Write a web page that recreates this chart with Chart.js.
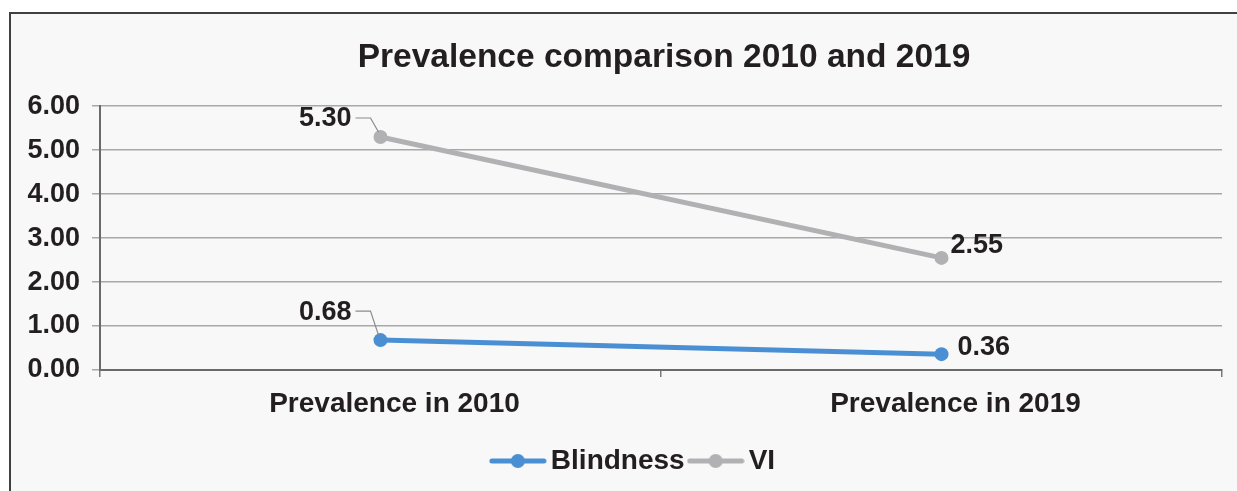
<!DOCTYPE html>
<html>
<head>
<meta charset="utf-8">
<script src="https://cdn.jsdelivr.net/npm/chart.js@4.4.1/dist/chart.umd.min.js"></script>
<style>
  html, body { margin: 0; padding: 0; background: #ffffff; overflow: hidden; }
  #frame {
    position: absolute; left: 9px; top: 12px; width: 1240px; height: 490px;
    border: 2px solid #404040; background: #f8f8f8;
  }
  #wrap { position: absolute; left: 0; top: 0; width: 1237px; height: 491px; }
</style>
</head>
<body>
<div id="frame"></div>
<div id="wrap"><canvas id="chart" width="1237" height="491"></canvas></div>
<script>
  const categories = ['Prevalence in 2010', 'Prevalence in 2019'];
  const blindness = [0.68, 0.36];
  const vi = [5.30, 2.55];
  const yMin = 0, yMax = 6, yStep = 1;

  const textColor = '#231f20';
  const blue = '#4a8fd3';
  const gray = '#b1b1b4';
  const font = 'Liberation Sans, Arial, sans-serif';

  // label offsets from each point: [dx, dy, leader?]
  const labelStyle = [
    [[-10, -29, true], [16, -7, false]],   // Blindness
    [[-10, -19, true], [9, -12, false]]    // VI
  ];

  // the original centres title and legend on a wider frame than we see
  const titleShift = 53, legendShift = 26;

  function legendMarker(color) {
    const c = document.createElement('canvas');
    c.width = 58; c.height = 16;
    const g = c.getContext('2d');
    g.strokeStyle = color; g.lineWidth = 5; g.lineCap = 'round';
    g.beginPath(); g.moveTo(3, 8); g.lineTo(55, 8); g.stroke();
    g.fillStyle = color;
    g.beginPath(); g.arc(29, 8, 7, 0, Math.PI * 2); g.fill();
    return c;
  }
  const markers = [legendMarker(blue), legendMarker(gray)];

  const shiftBoxes = {
    id: 'shiftBoxes',
    afterLayout(chart) {
      chart.titleBlock.left += titleShift;
      chart.titleBlock.right += titleShift;
      chart.legend.left += legendShift;
      chart.legend.right += legendShift;
    }
  };

  const dataLabels = {
    id: 'dataLabels',
    afterDatasetsDraw(chart) {
      const ctx = chart.ctx;
      ctx.save();
      ctx.font = 'bold 27px ' + font;
      ctx.fillStyle = textColor;
      ctx.textBaseline = 'middle';
      chart.data.datasets.forEach((ds, di) => {
        const meta = chart.getDatasetMeta(di);
        meta.data.forEach((pt, i) => {
          const [dx, dy, leader] = labelStyle[di][i];
          const txt = ds.data[i].toFixed(2);
          if (leader) {
            const ex = pt.x + dx, ey = pt.y + dy;
            ctx.strokeStyle = '#8a8a8a';
            ctx.lineWidth = 1.2;
            ctx.beginPath();
            ctx.moveTo(pt.x - 2, pt.y - 5);
            ctx.lineTo(ex, ey);
            ctx.lineTo(ex - 15, ey);
            ctx.stroke();
            ctx.textAlign = 'right';
            ctx.fillText(txt, ex - 19, ey + 1);
          } else {
            ctx.textAlign = 'left';
            ctx.fillText(txt, pt.x + dx, pt.y + dy);
          }
        });
      });
      ctx.restore();
    }
  };

  new Chart(document.getElementById('chart'), {
    type: 'line',
    data: {
      labels: categories,
      datasets: [
        { label: 'Blindness', data: blindness, borderColor: blue, backgroundColor: blue,
          borderWidth: 5, pointRadius: 7, pointHoverRadius: 7, pointBorderWidth: 0 },
        { label: 'VI', data: vi, borderColor: gray, backgroundColor: gray,
          borderWidth: 5, pointRadius: 7, pointHoverRadius: 7, pointBorderWidth: 0 }
      ]
    },
    plugins: [dataLabels, shiftBoxes],
    options: {
      responsive: false,
      animation: false,
      layout: { padding: { left: 0, right: 15, top: 0, bottom: 6 } },
      plugins: {
        title: {
          display: true,
          text: 'Prevalence comparison 2010 and 2019',
          color: textColor,
          font: { family: font, size: 33.5, weight: 'bold' },
          padding: { top: 38, bottom: 28 }
        },
        legend: {
          position: 'bottom',
          labels: {
            color: textColor,
            font: { family: font, size: 28, weight: 'bold' },
            usePointStyle: true,
            pointStyleWidth: 38,
            padding: 12,
            generateLabels(chart) {
              return chart.data.datasets.map((ds, i) => ({
                text: ds.label,
                pointStyle: markers[i],
                fillStyle: ds.borderColor,
                strokeStyle: ds.borderColor,
                lineWidth: 0,
                hidden: false,
                datasetIndex: i,
                fontColor: textColor
              }));
            }
          }
        },
        tooltip: { enabled: false }
      },
      scales: {
        x: {
          offset: true,
          grid: { offset: true, drawOnChartArea: false, color: '#7a7a7a', tickLength: 7, lineWidth: 1.5 },
          border: { color: '#6a6a6a', width: 2 },
          ticks: { color: textColor, font: { family: font, size: 28, weight: 'bold' }, padding: 10, labelOffset: 14 },
          afterFit(scale) { scale.height = 65; }
        },
        y: {
          min: yMin, max: yMax,
          grid: { color: '#a8a8a8', lineWidth: 1.5, tickLength: 8 },
          border: { color: '#6a6a6a', width: 2 },
          ticks: {
            stepSize: yStep,
            color: textColor,
            padding: 12,
            font: { family: font, size: 27, weight: 'bold' },
            callback: v => v.toFixed(2)
          },
          afterFit(scale) { scale.width = 100; }
        }
      }
    }
  });
</script>
</body>
</html>
